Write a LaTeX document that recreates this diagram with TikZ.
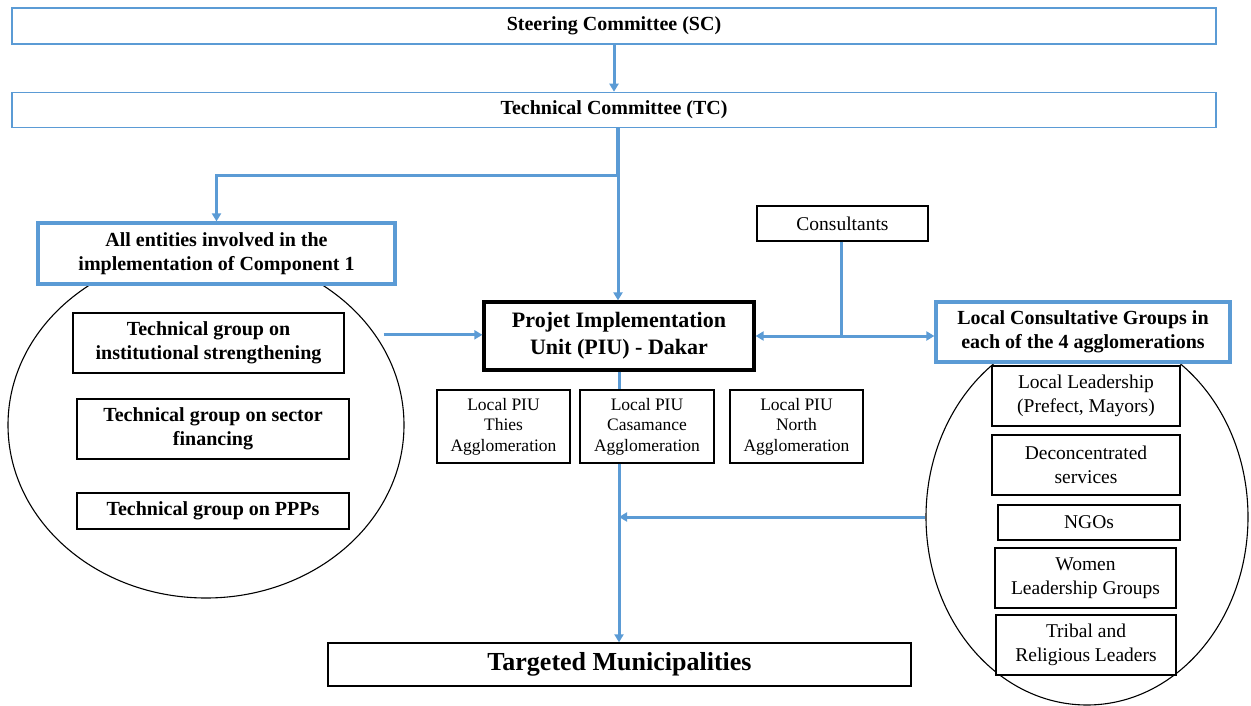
\documentclass[tikz,border=0pt]{standalone}
\usepackage{fontspec}
\setmainfont{Liberation Serif}
\usetikzlibrary{shapes.geometric,arrows.meta}
\definecolor{myblue}{HTML}{5B9BD5}
\tikzset{
  box/.style={rectangle,inner sep=0pt,fill=white,align=center},
  thinblue/.style={box,draw=myblue,line width=1.5pt},
  thickblue/.style={box,draw=myblue,line width=3.2pt},
  blackbox/.style={box,draw=black,line width=1.3pt},
  piubox/.style={box,draw=black,line width=3.2pt},
  bigtxt/.style={font=\fontsize{20}{24}\selectfont\bfseries},
  regtxt/.style={font=\fontsize{19.5}{24}\selectfont},
  smalltxt/.style={font=\fontsize{17.5}{20.5}\selectfont},
  ring/.style={ellipse,draw=black,line width=1.1pt,inner sep=0pt},
  link/.style={draw=myblue,line width=3pt},
  conn/.style={link,-{Triangle[width=9pt,length=8pt]}},
}
\begin{document}
\begin{tikzpicture}[x=1pt,y=-1pt]
\useasboundingbox (0,0) rectangle (1251,706);
% top committees
\node[thinblue,bigtxt,minimum width=1204pt,minimum height=36pt] (sc) at (614,26) {Steering Committee (SC)};
\node[thinblue,bigtxt,minimum width=1204pt,minimum height=35pt] (tc) at (614,110) {Technical Committee (TC)};
% left ellipse and groups
\node[ring,minimum width=396pt,minimum height=346pt] (ellL) at (206,425) {};
\node[thickblue,bigtxt,minimum width=357pt,minimum height=61pt] (ent) at (216.5,253.5) {All entities involved in the\\implementation of Component 1};
\node[blackbox,bigtxt,minimum width=271pt,minimum height=60pt] (g1) at (208.5,343) {Technical group on\\institutional strengthening};
\node[blackbox,bigtxt,minimum width=272pt,minimum height=60pt] (g2) at (213,429) {Technical group on sector\\financing};
\node[blackbox,bigtxt,minimum width=272pt,minimum height=36pt] (g3) at (213,511) {Technical group on PPPs};
% PIU
\node[piubox,font=\fontsize{22}{27}\selectfont\bfseries,minimum width=270pt,minimum height=68pt] (piu) at (619,336) {Projet Implementation\\Unit (PIU) - Dakar};
\node[blackbox,smalltxt,minimum width=133pt,minimum height=73pt] (lp1) at (503.5,426.5) {Local PIU\\Thies\\Agglomeration};
\node[blackbox,smalltxt,minimum width=134pt,minimum height=73pt] (lp2) at (647,426.5) {Local PIU\\Casamance\\Agglomeration};
\node[blackbox,smalltxt,minimum width=133pt,minimum height=73pt] (lp3) at (796.5,426.5) {Local PIU\\North\\Agglomeration};
% consultants
\node[blackbox,regtxt,minimum width=171pt,minimum height=35pt] (cons) at (842.5,223.5) {Consultants};
% right ellipse and groups
\node[ring,minimum width=322pt,minimum height=376pt] (ellR) at (1087,517) {};
\node[thickblue,bigtxt,minimum width=294pt,minimum height=60pt] (lcg) at (1083,332) {Local Consultative Groups in\\each of the 4 agglomerations};
\node[blackbox,regtxt,minimum width=188pt,minimum height=60pt] (r1) at (1086,396) {Local Leadership\\(Prefect, Mayors)};
\node[blackbox,regtxt,minimum width=188pt,minimum height=60pt] (r2) at (1086,465) {Deconcentrated\\services};
\node[blackbox,regtxt,minimum width=182pt,minimum height=35pt] (r3) at (1089,522.5) {NGOs};
\node[blackbox,regtxt,minimum width=181pt,minimum height=60pt] (r4) at (1085.5,578) {Women\\Leadership Groups};
\node[blackbox,regtxt,minimum width=180pt,minimum height=60pt] (r5) at (1086,645) {Tribal and\\Religious Leaders};
% targeted
\node[blackbox,font=\fontsize{26}{31}\selectfont\bfseries,minimum width=583pt,minimum height=43pt] (tm) at (619.5,664.5) {Targeted Municipalities};
% connectors
\coordinate (j1) at (618,176);
\coordinate (j2) at (841,336);
\draw[conn] (sc.south) -- (tc.north);
\draw[link,line width=3.6pt] (tc.south -| j1) -- (j1);
\draw[conn] (j1) -| (ent.north);
\draw[conn] (j1) -- (j1 |- piu.north);
\draw[conn,shorten <=8pt] (ellL.28) -- (ellL.28 -| piu.west);
\draw[link] (cons.south -| j2) -- (j2);
\draw[conn] (j2) -- (piu.east);
\draw[conn] (j2) -- (j2 -| lcg.west);
\draw[link] (piu.south) -- (piu.south |- lp2.north);
\draw[conn] (piu.south |- lp2.south) -- (piu.south |- tm.north);
\draw[conn] (ellR.west) -- (ellR.west -| piu.south);
\end{tikzpicture}
\end{document}
